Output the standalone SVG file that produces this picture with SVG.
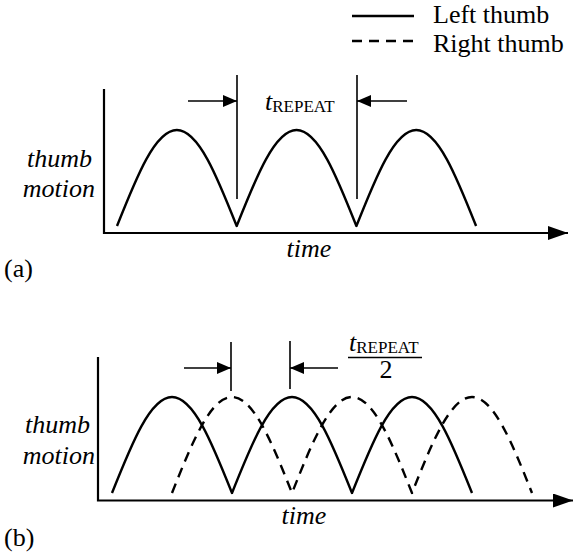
<svg xmlns="http://www.w3.org/2000/svg" width="574" height="557" viewBox="0 0 574 557">
<style>
text{font-family:"Liberation Serif","Times New Roman",serif;font-size:26px;fill:#000}
.it{font-style:italic}
.sub{font-size:17px;font-style:normal}
.curve{fill:none;stroke:#000;stroke-width:2.4;stroke-linejoin:round}
.dash{stroke-dasharray:10 7}
.axis{fill:none;stroke:#000;stroke-width:2.2}
.dim{fill:none;stroke:#000;stroke-width:1.6}
</style>
<defs>
<marker id="ah" markerUnits="userSpaceOnUse" markerWidth="14" markerHeight="12" refX="14" refY="6" orient="auto"><path d="M0,0 L14,6 L0,12 z" fill="#000"/></marker>
<marker id="axh" markerUnits="userSpaceOnUse" markerWidth="20" markerHeight="14" refX="20" refY="7" orient="auto"><path d="M0,0 L20,7 L0,14 z" fill="#000"/></marker>
</defs>
<rect width="574" height="557" fill="#fff"/>
<g id="legend">
<line class="curve" x1="352" y1="16" x2="414" y2="16"/>
<line class="curve dash" x1="352" y1="41" x2="413" y2="41"/>
<text x="433" y="23">Left thumb</text>
<text x="433" y="52">Right thumb</text>
</g>
<g id="panel-a">
<path class="axis" d="M104,89 V233 H568" marker-end="url(#axh)"/>
<path id="a-left" class="curve" d="M117,226 c19.52,-49.18 38.19,-96 59.85,-96 c21.66,0 40.33,46.82 59.85,96 c19.52,-49.18 38.19,-96 59.85,-96 c21.66,0 40.33,46.82 59.85,96 c19.52,-49.18 38.19,-96 59.85,-96 c21.66,0 40.33,46.82 59.85,96"/>
<text class="it" x="92" y="167" text-anchor="end">thumb</text>
<text class="it" x="95" y="197" text-anchor="end">motion</text>
<text class="it" x="309" y="257" text-anchor="middle">time</text>
<text x="4" y="277">(a)</text>
</g>
<g id="panel-b">
<path class="axis" d="M98,357 V500.5 H573" marker-end="url(#axh)"/>
<path id="b-left" class="curve" d="M112,493 c19.57,-49.18 38.29,-96 60,-96 c21.71,0 40.43,46.82 60,96 c19.57,-49.18 38.29,-96 60,-96 c21.71,0 40.43,46.82 60,96 c19.57,-49.18 38.29,-96 60,-96 c21.710,0 40.43,46.82 60,96"/>
<path id="b-right" class="curve dash" d="M172,493 c19.57,-49.18 38.29,-96 60,-96 c21.71,0 40.43,46.82 60,96 c19.57,-49.18 38.29,-96 60,-96 c21.71,0 40.43,46.82 60,96 c19.57,-49.18 38.29,-96 60,-96 c21.71,0 40.43,46.82 60,96"/>
<text class="it" x="90" y="433" text-anchor="end">thumb</text>
<text class="it" x="95" y="464" text-anchor="end">motion</text>
<text class="it" x="304" y="524" text-anchor="middle">time</text>
<text x="4" y="546">(b)</text>
</g>
<g id="connectors">
<line class="dim" x1="237" y1="75" x2="237" y2="199"/>
<line class="dim" x1="357" y1="75" x2="357" y2="199"/>
<line class="dim" x1="188" y1="101" x2="237" y2="101" marker-end="url(#ah)"/>
<line class="dim" x1="407" y1="101" x2="357" y2="101" marker-end="url(#ah)"/>
<line class="dim" x1="231" y1="342" x2="231" y2="391"/>
<line class="dim" x1="290" y1="341" x2="290" y2="389"/>
<line class="dim" x1="184" y1="368" x2="231" y2="368" marker-end="url(#ah)"/>
<line class="dim" x1="338" y1="368" x2="290" y2="368" marker-end="url(#ah)"/>
</g>
<g id="labels">
<text x="265" y="110"><tspan class="it">t</tspan><tspan class="sub" dy="2">REPEAT</tspan></text>
<text x="349" y="351"><tspan class="it">t</tspan><tspan class="sub" dy="2">REPEAT</tspan></text>
<line class="dim" x1="348" y1="357.5" x2="422" y2="357.5"/>
<text x="386" y="378" text-anchor="middle">2</text>
</g>
</svg>
